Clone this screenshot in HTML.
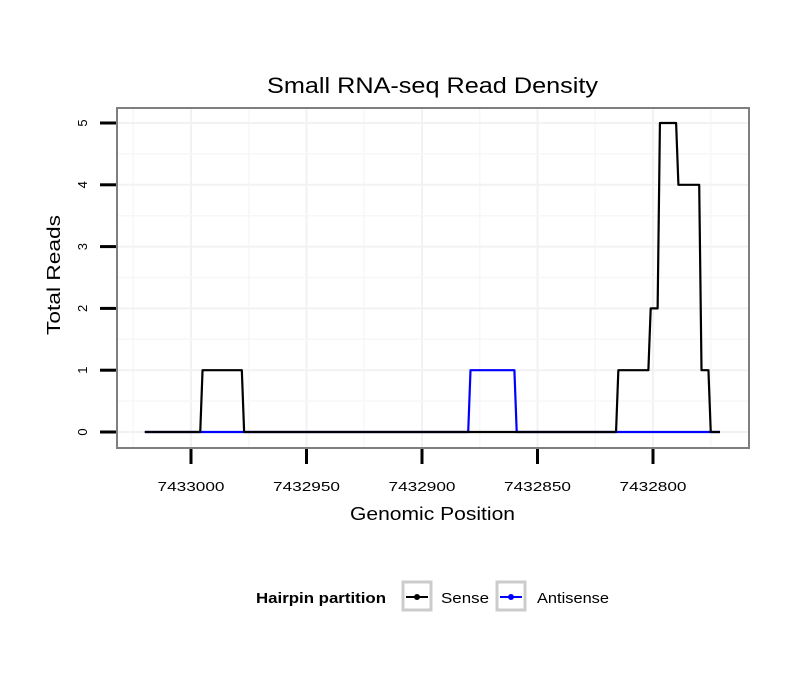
<!DOCTYPE html>
<html><head><meta charset="utf-8"><style>
body{margin:0;background:#fff}
text{font-family:"Liberation Sans",Arial,sans-serif}
</style></head><body>
<svg id="chart" width="810" height="690" viewBox="0 0 810 690" xmlns="http://www.w3.org/2000/svg">
<rect width="810" height="690" fill="#fff"/>
<text x="267" y="93" font-size="22" textLength="331" lengthAdjust="spacingAndGlyphs">Small RNA-seq Read Density</text>
<g id="grid"></g>
<g id="series"></g>
<rect x="117" y="108" width="632" height="340" fill="none" stroke="#7f7f7f" stroke-width="2"/>
<g id="axes"></g>
<text x="350" y="520" font-size="18" textLength="165" lengthAdjust="spacingAndGlyphs">Genomic Position</text>
<text transform="translate(60,335) rotate(-90)" font-size="18" textLength="120" lengthAdjust="spacingAndGlyphs">Total Reads</text>
<g>
<text x="256" y="603" font-size="15" font-weight="bold" textLength="130" lengthAdjust="spacingAndGlyphs">Hairpin partition</text>
<rect x="403" y="582" width="28" height="28" fill="#fff" stroke="#ccc" stroke-width="3"/>
<line x1="406" y1="597" x2="428" y2="597" stroke="#000" stroke-width="2"/><circle cx="417" cy="597" r="3" fill="#000"/>
<text x="441" y="603" font-size="15" textLength="48" lengthAdjust="spacingAndGlyphs">Sense</text>
<rect x="497" y="582" width="28" height="28" fill="#fff" stroke="#ccc" stroke-width="3"/>
<line x1="500" y1="597" x2="522" y2="597" stroke="#00f" stroke-width="2"/><circle cx="511" cy="597" r="3" fill="#00f"/>
<text x="537" y="603" font-size="15" textLength="72" lengthAdjust="spacingAndGlyphs">Antisense</text>
</g>
</svg>
<script>
const xTicks=[7433000,7432950,7432900,7432850,7432800];
const yTicks=[0,1,2,3,4,5];
const senseX=[7433020,7432996,7432995,7432978,7432977,7432816,7432815,7432802,7432801,7432798,7432797,7432790,7432789,7432780,7432779,7432776,7432775,7432771];
const senseY=[0,0,1,1,0,0,1,1,2,2,5,5,4,4,1,1,0,0];
const antiX=[7433020,7432880,7432879,7432860,7432859,7432771];
const antiY=[0,0,1,1,0,0];
const NS="http://www.w3.org/2000/svg";
function xs(v){return 191+(7433000-v)*2.31;}
function ys(v){return 432-v*61.8;}
function mk(t,a,p){const e=document.createElementNS(NS,t);for(const k in a)e.setAttribute(k,a[k]);p.appendChild(e);return e;}
const grid=document.getElementById('grid'),axes=document.getElementById('axes'),series=document.getElementById('series');
for(let v=7433025;v>=7432775;v-=25){const x=xs(v);if(x<118||x>748)continue;
const l=mk('line',{x1:x,x2:x,y1:109,y2:447,stroke:v%50===0?'#f2f2f2':'#f7f7f7','stroke-width':v%50===0?2:1.5},grid);
}
for(let v=0;v<=5.5;v+=0.5){const y=ys(v);if(y<109)continue;
const l=mk('line',{x1:118,x2:748,y1:y,y2:y,stroke:v%1===0?'#f2f2f2':'#f7f7f7','stroke-width':v%1===0?2:1.5},grid);
}
xTicks.forEach(v=>{const x=xs(v);
const t=mk('line',{x1:x,x2:x,y1:449,y2:464,stroke:'#000','stroke-width':3},axes);

const tx=mk('text',{x:x-33.5,y:491,'font-size':13,textLength:67,lengthAdjust:'spacingAndGlyphs'},axes);tx.textContent=v;
});
yTicks.forEach(v=>{const y=ys(v);
const t=mk('line',{x1:100,x2:116,y1:y,y2:y,stroke:'#000','stroke-width':3},axes);

const tx=mk('text',{transform:`translate(87,${y}) rotate(-90)`,'font-size':13,'text-anchor':'middle'},axes);tx.textContent=v;
});
function line(X,Y,c,name){const p=mk('polyline',{points:X.map((v,i)=>xs(v)+','+ys(Y[i])).join(' '),fill:'none',stroke:c,'stroke-width':2.2,'stroke-linejoin':'round'},series);
}
line(antiX,antiY,'#00f','antisense-line');
line(senseX,senseY,'#000','sense-line');
</script>
</body></html>
